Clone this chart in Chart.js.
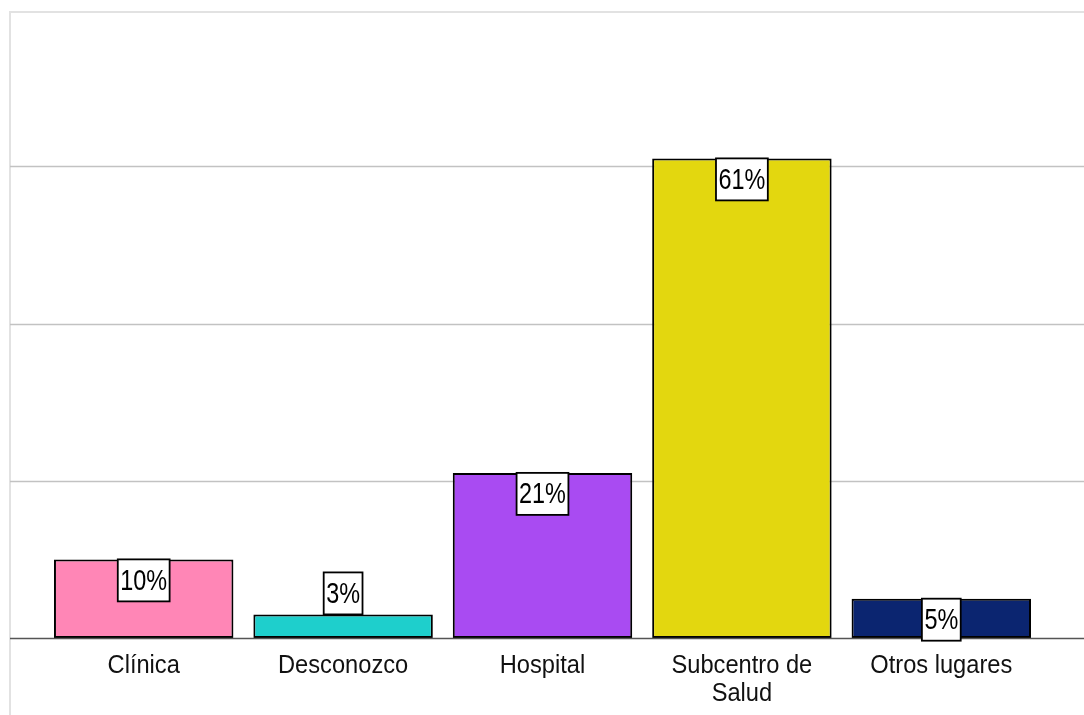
<!DOCTYPE html>
<html>
<head>
<meta charset="utf-8">
<script src="https://cdn.jsdelivr.net/npm/chart.js@4.4.1/dist/chart.umd.min.js"></script>
<style>
  html, body { margin: 0; padding: 0; background: #ffffff; }
  #wrap { position: relative; width: 1084px; height: 715px; overflow: hidden; }
  #frame { position: absolute; left: 9px; top: 11px; width: 2000px; height: 2000px;
           border-left: 2px solid #e2e2e2; border-top: 2px solid #e2e2e2; box-sizing: border-box; }
  canvas { position: absolute; left: 0; top: 0; }
</style>
</head>
<body>
<div id="wrap">
  <div id="frame"></div>
  <canvas id="c" width="1084" height="715"></canvas>
</div>
<script>
const categories = [["Clínica"], ["Desconozco"], ["Hospital"], ["Subcentro de", "Salud"], ["Otros lugares"]];
const values = [10, 3, 21, 61, 5];
const barColors = ["#ff86b6", "#1ecfcc", "#a94bf2", "#e3d70f", "#0b2570"];
const gridValues = [20, 40, 60];
const yMax = 80;

const FONT = "'Liberation Sans Narrow', 'Arial Narrow', 'Liberation Sans', Arial, sans-serif";

const drawPlugin = {
  id: 'customDraw',
  beforeDatasetsDraw(chart) {
    const ctx = chart.ctx, y = chart.scales.y;
    ctx.save();
    ctx.strokeStyle = '#c2c2c2';
    ctx.lineWidth = 1.5;
    gridValues.forEach(v => {
      const py = Math.round(y.getPixelForValue(v)) + 0.5;
      ctx.beginPath(); ctx.moveTo(10, py); ctx.lineTo(chart.width, py); ctx.stroke();
    });
    ctx.restore();
  },
  afterDatasetsDraw(chart) {
    const ctx = chart.ctx, y = chart.scales.y, x = chart.scales.x;
    ctx.save();
    // baseline
    ctx.strokeStyle = '#555555';
    ctx.lineWidth = 1.5;
    const py = Math.round(y.getPixelForValue(0)) + 0.5;
    ctx.beginPath(); ctx.moveTo(10, py); ctx.lineTo(chart.width, py); ctx.stroke();

    // category labels (condensed)
    ctx.font = "26px " + FONT;
    ctx.textAlign = 'center';
    ctx.textBaseline = 'alphabetic';
    ctx.fillStyle = '#111111';
    categories.forEach((lines, i) => {
      const cx = x.getPixelForTick(i);
      lines.forEach((ln, j) => {
        ctx.save();
        ctx.translate(cx, 673 + j * 28);
        ctx.scale(0.91, 1);
        ctx.fillText(ln, 0, 0);
        ctx.restore();
      });
    });

    // value labels
    const meta = chart.getDatasetMeta(0);
    ctx.font = "30px " + FONT;
    ctx.textAlign = 'center';
    ctx.textBaseline = 'middle';
    const sx = 0.78;
    meta.data.forEach((bar, i) => {
      const txt = values[i] + '%';
      const w = ctx.measureText(txt).width * sx + 5;
      const h = 42;
      const barH = bar.base - bar.y;
      const top = barH < 30 ? bar.y - h : bar.y;
      const left = bar.x - w / 2;
      ctx.fillStyle = '#ffffff';
      ctx.fillRect(left, top, w, h);
      ctx.strokeStyle = '#000000';
      ctx.lineWidth = 1.8;
      ctx.strokeRect(left, top, w, h);
      ctx.fillStyle = '#000000';
      ctx.save();
      ctx.translate(bar.x, top + h / 2 + 1);
      ctx.scale(sx, 1);
      ctx.fillText(txt, 0, 0);
      ctx.restore();
    });
    ctx.restore();
  }
};

new Chart(document.getElementById('c'), {
  type: 'bar',
  data: {
    labels: categories,
    datasets: [{
      data: values,
      backgroundColor: barColors,
      borderColor: '#000000',
      borderWidth: 2,
      borderSkipped: false,
      categoryPercentage: 0.9,
      barPercentage: 1.0
    }]
  },
  options: {
    responsive: false,
    animation: false,
    devicePixelRatio: 1,
    layout: { padding: { left: 44, right: 43, top: 9, bottom: 77 } },
    plugins: { legend: { display: false }, tooltip: { enabled: false } },
    scales: {
      x: { display: false },
      y: { display: false, min: 0, max: yMax }
    }
  },
  plugins: [drawPlugin]
});
</script>
</body>
</html>
